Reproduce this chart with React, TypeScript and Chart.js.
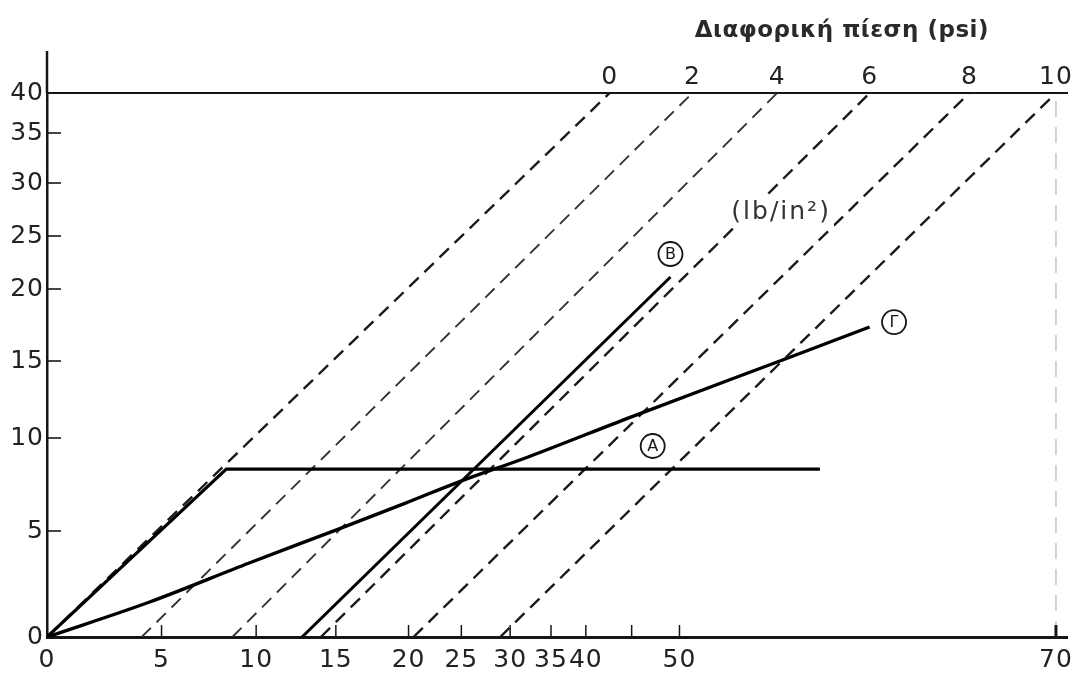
import React, { useEffect, useRef } from 'react';
import { Chart, LinearScale, registerables } from 'chart.js';

// ---------------- data ----------------
// bottom axis: flow (printed, non-uniform scale)
const xTickValues = [0, 5, 10, 15, 20, 25, 30, 35, 40, 45, 50, 70];
const xTickLabels = ['0', '5', '10', '15', '20', '25', '30', '35', '40', '', '50', '70'];
// left axis
const yTickValues = [0, 5, 10, 15, 20, 25, 30, 35, 40];
const yTickLabels = ['0', '5', '10', '15', '20', '25', '30', '35', '40'];

// differential pressure lines (psi): where each meets y = 0 and y = 40
const psiValues = [0, 2, 4, 6, 8, 10];
const psiBottomX = [0, 4.13, 8.74, 14.06, 20.47, 28.98];
const psiTopX = [42.6, 50.69, 55.19, 60.11, 65.4, 70];

// curve A
const curveAx = [0, 8.42, 57.46];
const curveAy = [0, 8.33, 8.33];
// curve B
const curveBx = [12.88, 49.06];
const curveBy = [0, 21.13];
// curve Γ
const curveGx = [0, 4.48, 9.63, 15.0, 19.79, 24.72, 32.2, 44.9, 55.9, 60.1];
const curveGy = [0, 1.65, 3.49, 5.05, 6.5, 7.63, 8.98, 11.36, 15.28, 17.36];

// circled curve names
const curveNames = ['Α', 'Β', 'Γ'];
const curveNameX = [47.2, 49.06, 61.4];
const curveNameY = [9.57, 23.3, 17.7];

const topAxisTitle = 'Διαφορική πίεση (psi)';
const unitText = '(lb/in²)';
const unitX = 55.4;
const unitY = 27.2;

// ---------------- printed (distorted) axis geometry ----------------
// [value, offset along axis in px] — the original figure's axes are not uniform
const X_KNOTS = [
  [0, 0], [5, 115], [10, 210], [15, 290], [20, 363], [25, 416], [30, 465],
  [35, 506], [40, 541], [45, 587], [50, 635], [70, 1013], [70.63, 1025],
];
const Y_KNOTS = [
  [0, 0], [5, 106], [10, 199], [15, 276], [20, 348], [25, 401], [30, 454], [35, 504], [40, 544],
];
const X_MAX = X_KNOTS[X_KNOTS.length - 1][0];
const Y_MAX = Y_KNOTS[Y_KNOTS.length - 1][0];
const KNOTS: Record<string, number[][]> = { x: X_KNOTS, x2: X_KNOTS, y: Y_KNOTS };

function knotOffset(k: number[][], value: number) {
  let i = 1;
  while (i < k.length - 1 && value > k[i][0]) i++;
  const [v0, p0] = k[i - 1];
  const [v1, p1] = k[i];
  return p0 + ((value - v0) * (p1 - p0)) / (v1 - v0);
}
function knotValue(k: number[][], off: number) {
  let i = 1;
  while (i < k.length - 1 && off > k[i][1]) i++;
  const [v0, p0] = k[i - 1];
  const [v1, p1] = k[i];
  return v0 + ((off - p0) * (v1 - v0)) / (p1 - p0);
}

class PiecewiseScale extends LinearScale {
  static id = 'piecewise';
  static defaults = {};
  getPixelForValue(value: any) {
    if (value === null || value === undefined || Number.isNaN(value)) return NaN;
    const k = KNOTS[(this as any).id];
    const total = k[k.length - 1][1];
    return (this as any).getPixelForDecimal(knotOffset(k, value) / total);
  }
  getValueForPixel(pixel: number) {
    const k = KNOTS[(this as any).id];
    const total = k[k.length - 1][1];
    return knotValue(k, (this as any).getDecimalForPixel(pixel) * total);
  }
}

Chart.register(...registerables, PiecewiseScale as any);

const FONT = '"DejaVu Sans", "Liberation Sans", sans-serif';
const INK = '#161616';

const pts = (xs: number[], ys: number[]) => xs.map((x, i) => ({ x, y: ys[i] }));

// the scanned figure's lettering is wide: add a little tracking to tick text
const trackingPlugin = {
  id: 'tracking',
  beforeDraw(chart: any) {
    chart.ctx.letterSpacing = '1px';
  },
  afterDraw(chart: any) {
    chart.ctx.letterSpacing = '0px';
  },
};

const innerTicksPlugin = {
  id: 'innerTicks',
  afterDatasetsDraw(chart: any) {
    const { ctx, chartArea } = chart;
    const xs = chart.scales.x;
    const ys = chart.scales.y;
    ctx.save();
    ctx.strokeStyle = INK;
    xs.ticks.forEach((t: any, i: number) => {
      if (t.value === 0) return;
      const px = xs.getPixelForTick(i);
      ctx.lineWidth = t.value === 70 ? 3 : 1.5;
      ctx.beginPath();
      ctx.moveTo(px, chartArea.bottom);
      ctx.lineTo(px, chartArea.bottom - 12);
      ctx.stroke();
    });
    ys.ticks.forEach((t: any, i: number) => {
      if (t.value === 0 || t.value === 40) return;
      const py = ys.getPixelForTick(i);
      ctx.lineWidth = 1.6;
      ctx.beginPath();
      ctx.moveTo(chartArea.left, py);
      ctx.lineTo(chartArea.left + 14, py);
      ctx.stroke();
    });
    // y axis continues a little above the top line
    ctx.lineWidth = 2.5;
    ctx.beginPath();
    ctx.moveTo(chartArea.left, chartArea.top);
    ctx.lineTo(chartArea.left, chartArea.top - 42);
    ctx.stroke();
    ctx.restore();
  },
};

const annotationsPlugin = {
  id: 'annotations',
  afterDraw(chart: any) {
    const { ctx } = chart;
    const xs = chart.scales.x;
    const ys = chart.scales.y;
    const x2 = chart.scales.x2;
    ctx.save();
    ctx.textAlign = 'center';
    ctx.textBaseline = 'middle';
    // top axis title, centred over the psi scale
    const l = x2.getPixelForValue(psiTopX[0]);
    const r = x2.getPixelForValue(psiTopX[psiTopX.length - 1]);
    ctx.fillStyle = '#2a2a2a';
    ctx.letterSpacing = '0.5px';
    ctx.font = `bold 23px ${FONT}`;
    ctx.fillText(topAxisTitle, (l + r) / 2 + 9, 31);
    // unit label, printed on a white patch that interrupts the dashed line
    ctx.letterSpacing = '2px';
    ctx.font = `25px ${FONT}`;
    const ux = xs.getPixelForValue(unitX);
    const uy = ys.getPixelForValue(unitY);
    const uw = ctx.measureText(unitText).width;
    ctx.fillStyle = '#fff';
    ctx.fillRect(ux - uw / 2 - 3, uy - 15, uw + 6, 30);
    ctx.fillStyle = '#333';
    ctx.fillText(unitText, ux, uy);
    // circled curve names
    ctx.letterSpacing = '0px';
    curveNames.forEach((n, i) => {
      const px = xs.getPixelForValue(curveNameX[i]);
      const py = ys.getPixelForValue(curveNameY[i]);
      ctx.strokeStyle = INK;
      ctx.lineWidth = 1.8;
      ctx.beginPath();
      ctx.arc(px, py, 12, 0, Math.PI * 2);
      ctx.stroke();
      ctx.fillStyle = INK;
      ctx.font = `16px ${FONT}`;
      ctx.fillText(n, px, py + 1);
    });
    ctx.restore();
  },
};

export default function App() {
  const ref = useRef<HTMLCanvasElement | null>(null);

  useEffect(() => {
    if (!ref.current) return;
    const dashed = psiValues.map((p, i) => ({
      label: `${p} psi`,
      data: [
        { x: psiBottomX[i], y: 0 },
        { x: psiTopX[i], y: Y_MAX },
      ],
      borderColor: i === 1 || i === 2 ? '#333' : '#1a1a1a',
      borderWidth: i === 1 || i === 2 ? 1.9 : 2.4,
      borderDash: [13, 8],
      pointRadius: 0,
      fill: false,
      xAxisID: 'x',
      yAxisID: 'y',
    }));

    const chart = new Chart(ref.current, {
      type: 'line',
      data: {
        datasets: [
          {
            label: 'Γ',
            data: pts(curveGx, curveGy),
            borderColor: '#000',
            borderWidth: 3.4,
            pointRadius: 0,
            cubicInterpolationMode: 'monotone',
            fill: false,
          },
          {
            label: 'Β',
            data: pts(curveBx, curveBy),
            borderColor: '#000',
            borderWidth: 3,
            pointRadius: 0,
            fill: false,
          },
          {
            label: 'Α',
            data: pts(curveAx, curveAy),
            borderColor: '#000',
            borderWidth: 3.2,
            pointRadius: 0,
            fill: false,
          },
          ...dashed,
          {
            label: 'edge',
            data: [
              { x: xTickValues[xTickValues.length - 1], y: 0 },
              { x: xTickValues[xTickValues.length - 1], y: Y_MAX },
            ],
            borderColor: '#c4c4c4',
            borderWidth: 1.5,
            borderDash: [16, 10],
            pointRadius: 0,
            fill: false,
          },
        ] as any,
      },
      options: {
        responsive: false,
        animation: false,
        events: [],
        layout: { padding: { left: 0, right: 8, top: 0, bottom: 0 } },
        plugins: {
          legend: { display: false },
          tooltip: { enabled: false },
        },
        scales: {
          x: {
            type: 'piecewise' as any,
            position: 'bottom',
            min: 0,
            max: X_MAX,
            afterBuildTicks: (s: any) => {
              s.ticks = xTickValues.map((v) => ({ value: v }));
            },
            afterFit: (s: any) => {
              s.height = 38;
            },
            grid: { display: false, drawTicks: false },
            border: { display: true, color: INK, width: 3 },
            ticks: {
              autoSkip: false,
              minRotation: 0,
              maxRotation: 0,
              padding: 8,
              color: '#222',
              font: { family: FONT, size: 25 },
              callback: (_v: any, i: number) => xTickLabels[i],
            },
          },
          x2: {
            type: 'piecewise' as any,
            position: 'top',
            min: 0,
            max: X_MAX,
            afterBuildTicks: (s: any) => {
              s.ticks = psiTopX.map((v) => ({ value: v }));
            },
            afterFit: (s: any) => {
              s.height = 93;
            },
            grid: { display: false, drawTicks: false },
            border: { display: true, color: INK, width: 2 },
            ticks: {
              autoSkip: false,
              minRotation: 0,
              maxRotation: 0,
              padding: 1,
              color: '#222',
              font: { family: FONT, size: 25 },
              callback: (_v: any, i: number) => String(psiValues[i]),
            },
          },
          y: {
            type: 'piecewise' as any,
            position: 'left',
            min: 0,
            max: Y_MAX,
            afterBuildTicks: (s: any) => {
              s.ticks = yTickValues.map((v) => ({ value: v }));
            },
            afterFit: (s: any) => {
              s.width = 47;
            },
            grid: { display: false, drawTicks: false },
            border: { display: true, color: INK, width: 2.5 },
            ticks: {
              autoSkip: false,
              padding: 3,
              color: '#222',
              font: { family: FONT, size: 25 },
              callback: (_v: any, i: number) => yTickLabels[i],
            },
          },
        },
      } as any,
      plugins: [trackingPlugin, innerTicksPlugin, annotationsPlugin],
    });
    return () => chart.destroy();
  }, []);

  return (
    <div style={{ position: 'absolute', left: 0, top: 0, width: 1080, height: 675, background: '#fff' }}>
      <canvas ref={ref} width={1080} height={675} style={{ display: 'block' }} />
    </div>
  );
}
